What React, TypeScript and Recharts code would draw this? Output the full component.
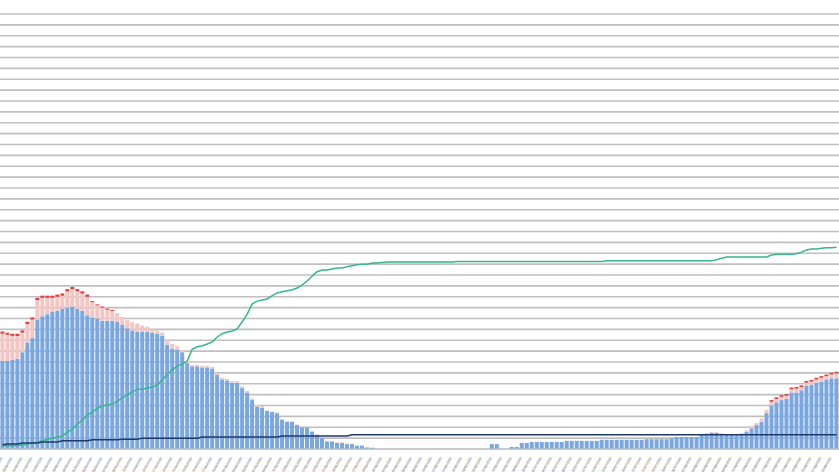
import {
  ComposedChart,
  Bar,
  Line,
  XAxis,
  YAxis,
  CartesianGrid,
} from "recharts";

// blue = main count, pink / red stacked on top, green = cumulative, navy = baseline series
const BLUE = [
  810, 810, 820, 830, 890, 980, 1020, 1190, 1220, 1240,
  1260, 1270, 1290, 1300, 1310, 1290, 1270, 1230, 1210, 1200,
  1180, 1180, 1180, 1170, 1140, 1110, 1090, 1080, 1080, 1080,
  1070, 1060, 1040, 960, 920, 910, 890, 790, 760, 760,
  750, 750, 740, 680, 640, 630, 610, 610, 560, 520,
  450, 390, 380, 350, 340, 330, 270, 250, 250, 220,
  200, 200, 160, 130, 100, 70, 70, 55, 55, 45,
  45, 30, 30, 15, 10, 0, 0, 0, 0, 0,
  0, 0, 0, 0, 0, 0, 0, 0, 0, 0,
  0, 0, 0, 0, 0, 0, 0, 0, 45, 45,
  0, 0, 18, 18, 55, 55, 65, 65, 65, 65,
  65, 65, 65, 75, 75, 75, 75, 75, 75, 75,
  85, 85, 85, 85, 85, 85, 85, 85, 85, 90,
  90, 90, 90, 90, 100, 110, 110, 110, 110, 110,
  130, 140, 150, 150, 140, 130, 130, 130, 140, 160,
  190, 220, 250, 330, 400, 430, 450, 460, 520, 520,
  540, 580, 590, 610, 620, 640, 650, 650,
];

const PINK = [
  250, 240, 220, 210, 180, 170, 170, 180, 170, 150,
  130, 130, 120, 150, 160, 160, 160, 170, 140, 120,
  120, 100, 90, 80, 75, 75, 75, 75, 55, 45,
  30, 30, 30, 45, 45, 35, 20, 15, 15, 15,
  15, 15, 15, 15, 15, 15, 15, 15, 15, 15,
  15, 15, 15, 5, 5, 5, 5, 5, 5, 5,
  5, 5, 5, 5, 5, 5, 5, 5, 5, 5,
  5, 5, 5, 5, 5, 0, 0, 0, 0, 0,
  0, 0, 0, 0, 0, 0, 0, 0, 0, 0,
  0, 0, 0, 0, 0, 0, 0, 0, 0, 0,
  0, 0, 0, 0, 0, 0, 0, 0, 0, 0,
  0, 0, 0, 0, 0, 0, 0, 0, 0, 0,
  0, 0, 0, 0, 0, 0, 0, 0, 0, 0,
  0, 0, 0, 0, 0, 0, 0, 0, 0, 0,
  5, 5, 5, 5, 5, 5, 5, 5, 5, 10,
  20, 20, 30, 30, 35, 30, 30, 30, 30, 35,
  30, 30, 30, 30, 35, 30, 35, 45,
];

const RED = [
  20, 20, 20, 20, 20, 20, 20, 20, 20, 20,
  20, 20, 20, 20, 20, 20, 20, 20, 10, 10,
  10, 10, 10, 0, 0, 0, 0, 0, 0, 0,
  0, 0, 0, 0, 0, 0, 0, 0, 0, 0,
  0, 0, 0, 0, 0, 0, 0, 0, 0, 0,
  0, 0, 0, 0, 0, 0, 0, 0, 0, 0,
  0, 0, 0, 0, 0, 0, 0, 0, 0, 0,
  0, 0, 0, 0, 0, 0, 0, 0, 0, 0,
  0, 0, 0, 0, 0, 0, 0, 0, 0, 0,
  0, 0, 0, 0, 0, 0, 0, 0, 0, 0,
  0, 0, 0, 0, 0, 0, 0, 0, 0, 0,
  0, 0, 0, 0, 0, 0, 0, 0, 0, 0,
  0, 0, 0, 0, 0, 0, 0, 0, 0, 0,
  0, 0, 0, 0, 0, 0, 0, 0, 0, 0,
  0, 0, 0, 0, 0, 0, 0, 0, 0, 0,
  0, 0, 0, 0, 15, 15, 15, 15, 15, 15,
  15, 15, 15, 15, 15, 15, 15, 15,
];

const GREEN = [
  30, 30, 30, 35, 35, 45, 55, 65, 75, 90,
  100, 110, 120, 155, 185, 230, 265, 315, 340, 375,
  395, 405, 415, 440, 470, 500, 525, 550, 550, 560,
  570, 590, 635, 690, 725, 765, 780, 810, 920, 940,
  950, 965, 985, 1030, 1060, 1075, 1085, 1105, 1170, 1240,
  1335, 1360, 1370, 1380, 1410, 1435, 1445, 1455, 1465, 1480,
  1510, 1545, 1590, 1630, 1645, 1645, 1655, 1665, 1665, 1675,
  1685, 1695, 1700, 1700, 1710, 1710, 1715, 1720, 1720, 1720,
  1720, 1720, 1720, 1720, 1720, 1720, 1720, 1720, 1720, 1720,
  1720, 1725, 1725, 1725, 1725, 1725, 1725, 1725, 1725, 1725,
  1725, 1725, 1725, 1725, 1725, 1725, 1725, 1725, 1725, 1725,
  1725, 1725, 1725, 1725, 1725, 1725, 1725, 1725, 1725, 1725,
  1725, 1730, 1730, 1730, 1730, 1730, 1730, 1730, 1730, 1730,
  1730, 1730, 1730, 1730, 1730, 1730, 1730, 1730, 1730, 1730,
  1730, 1730, 1730, 1740, 1755, 1765, 1765, 1765, 1765, 1765,
  1765, 1765, 1765, 1765, 1785, 1790, 1790, 1790, 1790, 1795,
  1810, 1830, 1840, 1840, 1845, 1850, 1850, 1855,
];

const NAVY = [
  40, 45, 45, 45, 55, 55, 55, 55, 65, 65,
  65, 65, 75, 75, 75, 75, 75, 75, 85, 85,
  85, 85, 85, 85, 90, 90, 90, 90, 100, 100,
  100, 100, 100, 100, 100, 100, 100, 100, 100, 100,
  110, 110, 110, 110, 110, 110, 110, 110, 110, 110,
  110, 110, 110, 110, 110, 110, 120, 120, 120, 120,
  120, 120, 120, 120, 120, 120, 120, 120, 120, 120,
  130, 130, 130, 130, 130, 130, 130, 130, 130, 130,
  130, 130, 130, 130, 130, 130, 130, 130, 130, 130,
  130, 130, 130, 130, 130, 130, 130, 130, 130, 130,
  130, 130, 130, 130, 130, 130, 130, 130, 130, 130,
  130, 130, 130, 130, 130, 130, 130, 130, 130, 130,
  130, 130, 130, 130, 130, 130, 130, 130, 130, 130,
  130, 130, 130, 130, 130, 130, 130, 130, 130, 130,
  130, 130, 130, 130, 130, 130, 130, 130, 130, 130,
  130, 130, 130, 130, 130, 130, 130, 130, 130, 130,
  130, 130, 130, 130, 130, 130, 130, 130,
];

// one label per day, starting here
const START_DATE = new Date(2020, 2, 16);

const Y_TICKS: number[] = [];
for (let v = 0; v <= 4000; v += 100) Y_TICKS.push(v);

const pad = (n: number) => (n < 10 ? "0" + n : "" + n);

const data = BLUE.map((blue, i) => {
  const d = new Date(START_DATE);
  d.setDate(d.getDate() + i);
  return {
    date: `${pad(d.getDate())}/${pad(d.getMonth() + 1)}/${d.getFullYear()}`,
    blue,
    pink: PINK[i],
    red: RED[i],
    green: GREEN[i],
    navy: NAVY[i],
  };
});

// tiny slanted date labels; scaled down so the browser doesn't clamp the font size
function DateTick({ x, y, payload }: any) {
  return (
    <text
      x={0}
      y={0}
      transform={`translate(${x} ${y + 1}) rotate(-60) scale(0.42)`}
      textAnchor="end"
      fontSize={8}
      fill="#555555"
      fontFamily="Arial, 'Liberation Sans', sans-serif"
    >
      {payload.value}
    </text>
  );
}

export default function App() {
  return (
    <div style={{ position: "absolute", left: 0, top: 0, background: "#fff" }}>
      <ComposedChart
        width={839}
        height={472}
        data={data}
        margin={{ top: 14, right: 0, left: 0, bottom: 0 }}
        barCategoryGap="8%"
      >
        <CartesianGrid vertical={false} stroke="#bfbfbf" strokeWidth={1.6} />
        <XAxis
          dataKey="date"
          height={23}
          interval={1}
          tickLine={false}
          axisLine={{ stroke: "#c4c4c4" }}
          tick={<DateTick />}
        />
        <YAxis hide domain={[0, 4000]} ticks={Y_TICKS} interval={0} />
        <Bar dataKey="blue" stackId="a" fill="#7aa7df" isAnimationActive={false} />
        <Bar dataKey="pink" stackId="a" fill="#f3c6c4" isAnimationActive={false} />
        <Bar dataKey="red" stackId="a" fill="#e2403f" isAnimationActive={false} />
        <Line
          dataKey="green"
          type="linear"
          stroke="#35b887"
          strokeWidth={1.5}
          dot={false}
          isAnimationActive={false}
        />
        <Line
          dataKey="navy"
          type="linear"
          stroke="#1f3a68"
          strokeWidth={1.5}
          dot={false}
          isAnimationActive={false}
        />
      </ComposedChart>
    </div>
  );
}
